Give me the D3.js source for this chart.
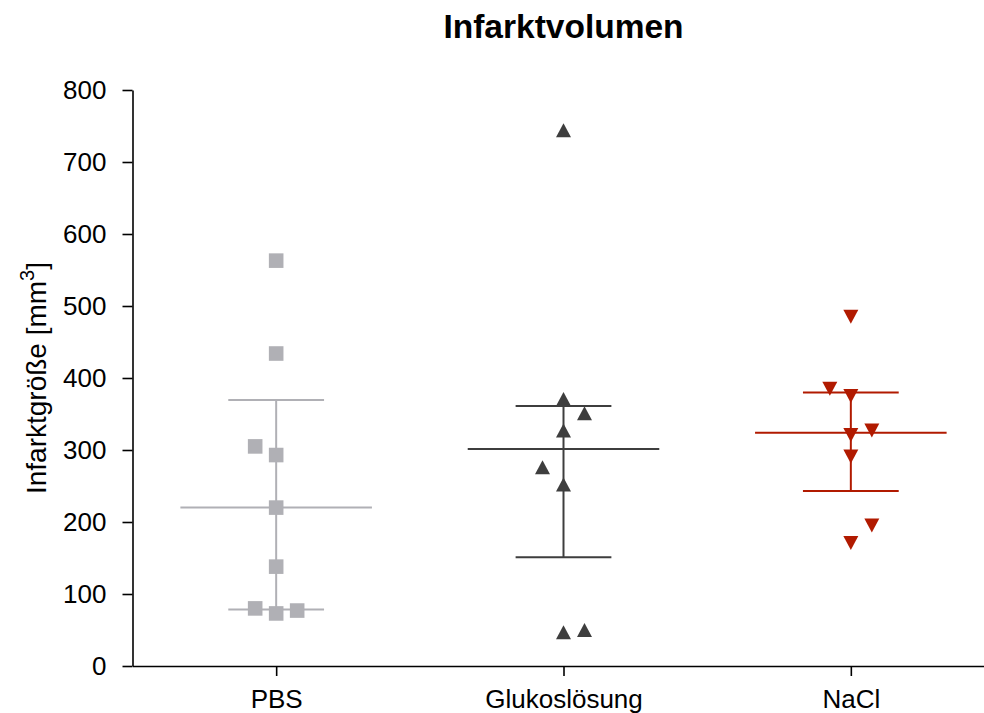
<!DOCTYPE html>
<html>
<head>
<meta charset="utf-8">
<script src="https://cdn.jsdelivr.net/npm/d3@7"></script>
<style>
  html, body { margin: 0; padding: 0; background: #fff; }
  svg { display: block; font-family: "Liberation Sans", Arial, Helvetica, sans-serif; }
</style>
</head>
<body>
<svg id="chart" width="984" height="713"></svg>
<script>
// Infarct volume per treatment group (mm³)
const categories = ["PBS", "Glukoslösung", "NaCl"];
const pbsValues = [563, 434, 305, 293, 220, 138, 80, 73, 77];
const glukoValues = [744, 371, 351, 327, 276, 252, 47, 50];
const naclValues = [485, 385, 375, 327, 321, 291, 195, 171];
// side-by-side lane for points that would overlap (-1 left, 0 centre, 1 right)
const pbsLanes = [0, 0, -1, 0, 0, 0, -1, 0, 1];
const glukoLanes = [0, 0, 1, 0, -1, 0, 0, 1];
const naclLanes = [0, -1, 0, 1, 0, 0, 1, 0];
const yTicks = [0, 100, 200, 300, 400, 500, 600, 700, 800];

const groupColors = ["#b0b0b5", "#3e3e3e", "#b11a00"];
const groupShapes = ["square", "up", "down"];

const groups = [
  { name: categories[0], values: pbsValues, lanes: pbsLanes },
  { name: categories[1], values: glukoValues, lanes: glukoLanes },
  { name: categories[2], values: naclValues, lanes: naclLanes }
].map((g, i) => {
  // median with quartiles taken as medians of the lower and upper halves
  const s = g.values.slice().sort(d3.ascending);
  const n = s.length;
  const lower = s.slice(0, Math.floor(n / 2));
  const upper = s.slice(Math.ceil(n / 2));
  return Object.assign({}, g, {
    color: groupColors[i],
    shape: groupShapes[i],
    median: d3.median(s),
    q1: d3.median(lower),
    q3: d3.median(upper)
  });
});

const svg = d3.select("#chart");
const plotLeft = 132.5, plotRight = 994.5, plotTop = 90, plotBottom = 666;

const x = d3.scalePoint().domain(categories).range([plotLeft, plotRight]).padding(0.5);
const y = d3.scaleLinear().domain([0, 800]).range([plotBottom, plotTop]);
const step = x.step();
const lane = d3.scaleLinear().domain([-1, 1]).range([-21, 21]);

// Title
svg.append("text")
  .attr("x", (plotLeft + plotRight) / 2)
  .attr("y", 37.5)
  .attr("text-anchor", "middle")
  .attr("font-size", 33.5)
  .attr("font-weight", "bold")
  .attr("fill", "#000")
  .text("Infarktvolumen");

// Y axis
const yAxis = svg.append("g")
  .attr("transform", `translate(${plotLeft},0)`)
  .call(d3.axisLeft(y).tickValues(yTicks).tickSize(10).tickPadding(16).tickSizeOuter(0));
yAxis.select(".domain").attr("stroke", "#000").attr("stroke-width", 1.6);
yAxis.selectAll(".tick line").attr("stroke", "#000").attr("stroke-width", 1.6);
yAxis.selectAll(".tick text").attr("font-size", 26).attr("fill", "#000")
  .attr("font-family", "'Liberation Sans', Arial, sans-serif");

// X axis
const xAxis = svg.append("g")
  .attr("transform", `translate(0,${plotBottom})`)
  .call(d3.axisBottom(x).tickSize(10).tickPadding(14).tickSizeOuter(0));
xAxis.select(".domain").attr("stroke", "#000").attr("stroke-width", 1.6);
xAxis.selectAll(".tick line").attr("stroke", "#000").attr("stroke-width", 1.6);
xAxis.selectAll(".tick text").attr("font-size", 26).attr("fill", "#000")
  .attr("font-family", "'Liberation Sans', Arial, sans-serif");

// Y axis title with superscript
const yTitle = svg.append("text")
  .attr("transform", `translate(46,${(plotTop + plotBottom) / 2}) rotate(-90)`)
  .attr("text-anchor", "middle")
  .attr("font-size", 28)
  .attr("fill", "#000");
yTitle.append("tspan").text("Infarktgröße [mm");
yTitle.append("tspan").attr("font-size", 20).attr("dy", -12).text("3");
yTitle.append("tspan").attr("dy", 12).text("]");

// Median line and interquartile whiskers
const stats = svg.append("g");
groups.forEach(g => {
  const cx = x(g.name);
  const gEl = stats.append("g").attr("stroke", g.color).attr("stroke-width", 2).attr("fill", "none");
  gEl.append("line").attr("x1", cx - step / 3).attr("x2", cx + step / 3)
    .attr("y1", y(g.median)).attr("y2", y(g.median));
  gEl.append("line").attr("x1", cx).attr("x2", cx)
    .attr("y1", y(g.q1)).attr("y2", y(g.q3));
  [g.q1, g.q3].forEach(q => {
    gEl.append("line").attr("x1", cx - step / 6).attr("x2", cx + step / 6)
      .attr("y1", y(q)).attr("y2", y(q));
  });
});

// Individual animals
const symbolPath = {
  square: "M-7.3,-7.3H7.3V7.3H-7.3Z",
  up: "M0,-7L7.5,7H-7.5Z",
  down: "M-7.5,-7H7.5L0,7Z"
};
const points = svg.append("g");
groups.forEach(g => {
  points.append("g").selectAll("path")
    .data(g.values.map((v, i) => ({ v, lane: g.lanes[i] })))
    .join("path")
    .attr("d", symbolPath[g.shape])
    .attr("fill", g.color)
    .attr("transform", d => `translate(${x(g.name) + lane(d.lane)},${y(d.v)})`);
});
</script>
</body>
</html>
